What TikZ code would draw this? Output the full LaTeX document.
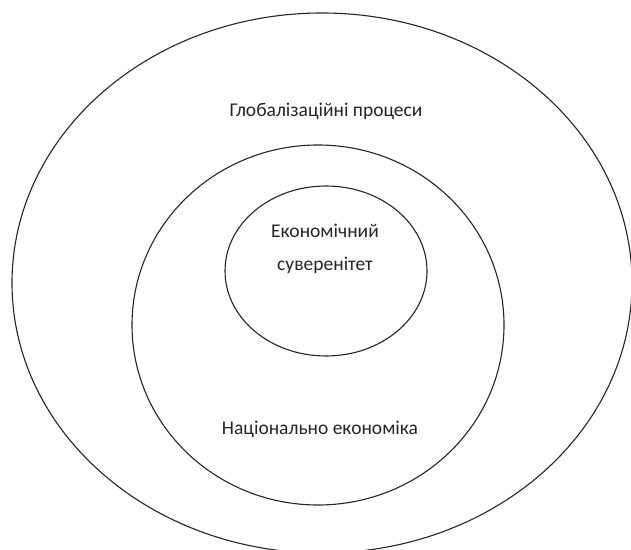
\documentclass[tikz,border=0pt]{standalone}
\usepackage{fontspec}
\setmainfont{Carlito}
\usetikzlibrary{shapes.geometric}
\begin{document}
\begin{tikzpicture}[x=1pt,y=1pt,
  ring/.style={draw=black!85, line width=1.1pt, ellipse, inner sep=0pt},
  lbl/.style={text=black!85, font=\fontsize{19.5}{33}\selectfont, inner sep=0pt}]
\useasboundingbox (0,0) rectangle (631,549);
\fill[white] (0,0) rectangle (631,549);
\node[ring, minimum width=620pt, minimum height=540pt] (outer) at (322,266) {};
\node[ring, minimum width=372pt, minimum height=360pt] (middle) at (318,224) {};
\node[ring, minimum width=202pt, minimum height=170pt] (inner) at (326,278) {};
\node[lbl, anchor=base] (glob) at (326,432) {Глобалізаційні процеси};
\node[lbl, anchor=base] (nat) at (320,115) {Національно економіка};
\node[lbl, anchor=base, align=center] (sov) at (325,278) {Економічний\\суверенітет};
\end{tikzpicture}
\end{document}
